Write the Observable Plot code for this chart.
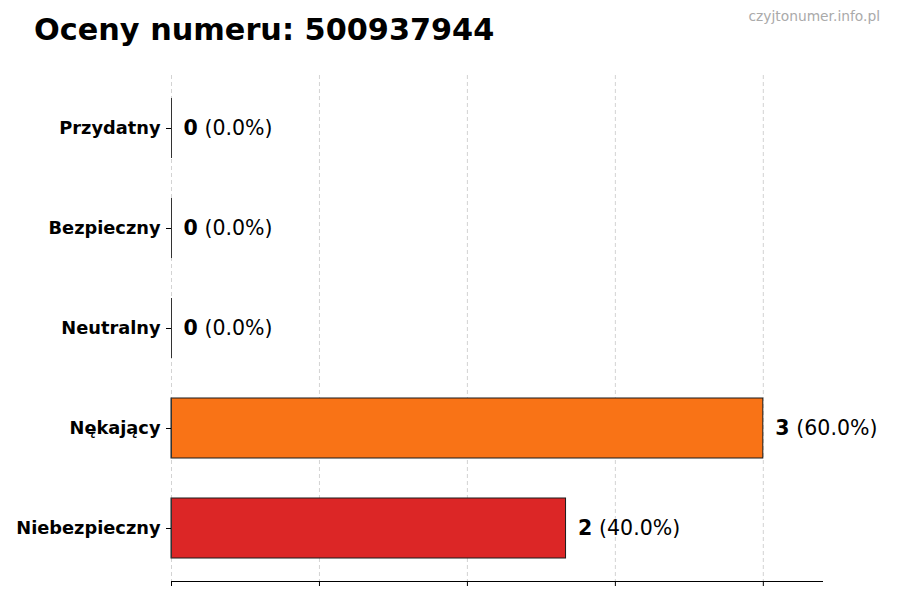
<!DOCTYPE html>
<html>
<head>
<meta charset="utf-8">
<script src="https://cdn.jsdelivr.net/npm/d3@7"></script>
<script src="https://cdn.jsdelivr.net/npm/@observablehq/plot@0.6"></script>
<style>
  html, body { margin: 0; padding: 0; background: #fff; }
  #wrap { position: relative; width: 900px; height: 600px; font-family: "DejaVu Sans", sans-serif; }
  #title { position: absolute; left: 34px; top: 12px; font-size: 30.3px; font-weight: bold; color: #000; white-space: nowrap; line-height: 1.164; }
  #wm { position: absolute; right: 20px; top: 8px; font-size: 13.8px; color: #aaaaaa; white-space: nowrap; }
  #chart { position: absolute; left: 0; top: 60px; }
</style>
</head>
<body>
<div id="wrap">
  <div id="title">Oceny numeru: 500937944</div>
  <div id="wm">czyjtonumer.info.pl</div>
  <div id="chart"></div>
</div>
<script>
const categories = ["Przydatny", "Bezpieczny", "Neutralny", "Nękający", "Niebezpieczny"];
const counts = [0, 0, 0, 3, 2];
const colors = ["#22c55e", "#3b82f6", "#9ca3af", "#f97316", "#dc2626"];
const xTicks = [0, 0.75, 1.5, 2.25, 3];

const total = d3.sum(counts);
const data = categories.map((c, i) => ({
  cat: c,
  value: counts[i],
  pct: "(" + (total ? (counts[i] / total * 100) : 0).toFixed(1) + "%)"
}));

const chart = Plot.plot({
  width: 900,
  height: 540,
  marginTop: 15,
  marginBottom: 19,
  marginLeft: 171,
  marginRight: 78,
  style: { fontFamily: "DejaVu Sans, sans-serif", fontSize: "16px", color: "#000", background: "#fff" },
  x: { domain: [0, 3.3], label: null },
  y: { domain: categories, paddingInner: 0.4, paddingOuter: 0.23, label: null },
  color: { domain: categories, range: colors },
  marks: [
    Plot.gridX(xTicks, { stroke: "#c8c8c8", strokeOpacity: 1, strokeDasharray: "4,3", strokeWidth: 0.8 }),
    Plot.barX(data, { x1: 0, x2: "value", y: "cat", fill: "cat", stroke: "#1a1a1a", strokeWidth: 1 }),
    Plot.tickX(data, { x: 0, y: "cat", stroke: "#333", strokeWidth: 1 }),
    Plot.text(data, { x: "value", y: "cat", text: d => String(d.value), textAnchor: "start", dx: 12, fontSize: 20.5, fontWeight: "bold", fill: "#000" }),
    Plot.text(data, { x: "value", y: "cat", text: "pct", textAnchor: "start", dx: 33, fontSize: 20.5, fill: "#000" }),
    Plot.frame({ anchor: "bottom", stroke: "#000", strokeWidth: 1 }),
    Plot.axisX({ ticks: xTicks, tickFormat: () => "", tickSize: 5, stroke: "#000", label: null }),
    Plot.axisY({ tickSize: 5, tickPadding: 6, fontWeight: "bold", fontSize: 17.8, label: null, stroke: "#000", fill: "#000" })
  ]
});
document.getElementById("chart").appendChild(chart);
</script>
</body>
</html>
